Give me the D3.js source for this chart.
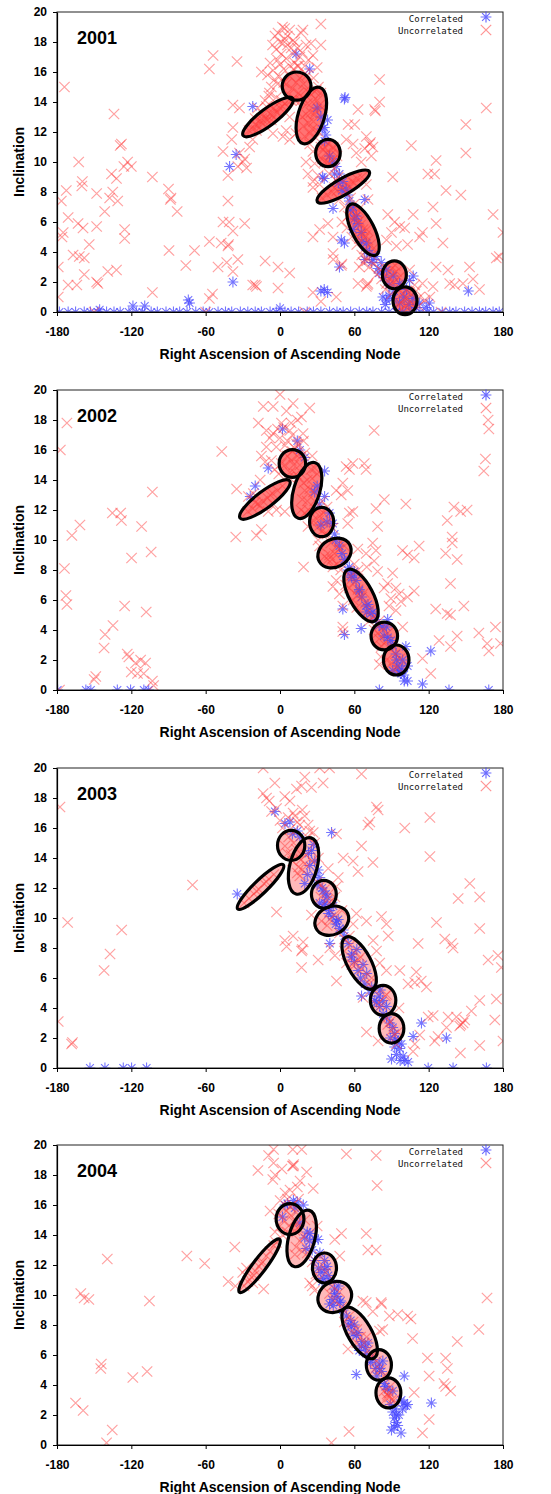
<!DOCTYPE html>
<html>
<head>
<meta charset="utf-8">
<script src="https://cdn.jsdelivr.net/npm/d3@7"></script>
<style>
  body { margin: 0; background: #fff; }
  svg { display: block; font-family: "Liberation Sans", Arial, sans-serif; }
</style>
</head>
<body>
<svg width="551" height="1494"></svg>
<script>
// Panel labels and axis ticks
const years = ["2001", "2002", "2003", "2004"];
const xTicks = [-180, -120, -60, 0, 60, 120, 180];
const yTicks = [0, 2, 4, 6, 8, 10, 12, 14, 16, 18, 20];
const seriesNames = ["Correlated", "Uncorrelated"];

// [RAAN, inclination] pairs
const uncorrelated2001 = [
  [-174,15],[-134,13.2],[-129,11.1],[-128,11.2],[-176.5,7.4],[-172.5,8.1],[-162.5,10],[-160,8.4],[-159.5,8.7],[-148,7.9],
  [-171,6.3],[-163,5.9],[-159,5.6],[-175,5.3],[-176,5],[-167,3.8],[-162,3.7],[-158,3.6],[-154,4.5],[-148,5.7],
  [-141.5,6.7],[-137.5,7.6],[-135,8],[-131,7.4],[-136,9.2],[-132,8.9],[-126,9.7],[-123,10],[-120,9.7],[-125.4,5.5],
  [-125.4,4.9],[-139,2.7],[-132,2.8],[-147,1.9],[-148,2],[-158,2.5],[-164,1.8],[-171,1.8],[-179,3],[-179,1],
  [-103,9],[-103,1.3],[-90,8.2],[-88.5,7.5],[-88,7.6],[-83,6.7],[-89.6,4.1],[-76,3.1],[-69,4.1],[-57,16.2],
  [-54,17.1],[-34.7,16.7],[-57,4.7],[-47.5,4.6],[-46,6],[-41,6],[-38,5.4],[-42,4.4],[-41.5,4.5],[-50,3],
  [-43,3.3],[-38,2.7],[-34,3.5],[-28.5,5.9],[-57,0.9],[-54.5,1.2],[-12,3.4],[-19,1.7],[-20,1.8],[-22,1.8],
  [-1.6,1.6],[-1.6,3],[7.8,2.6],[26.6,1.3],[33,0.7],[45.4,1],[-42,7.4],[-42,9.1],[-46,10.7],[-38,12.3],
  [-39,11.5],[-32.7,10.6],[-30,10],[-34,9.7],[-38,13.8],[-32.7,13.6],[-24.5,11],[-22,11.5],[-15,16],[-27,9.6],[-28.5,10.2],
  [-1.6,18.6],[2.4,17.9],[3.7,18.9],[7.8,18.8],[10.5,18.1],[17,18.6],[-3,17.5],[1,17.2],[5,16.9],[10.5,17.2],
  [16,17],[18.5,18.8],[26.6,17.1],[25,17.9],[33,19.2],[33,17.8],[-5.7,16.1],[-4.3,15.5],[-0.4,15.7],[-7,15],
  [-8.5,14.6],[-3,14.3],[1,14.1],[-5.7,11.9],[2.4,11.7],[5,12.1],[7.8,11.5],[-7,12.8],[-11,13.7],[-12,14.1],
  [7.8,13],[13,11.9],[24,11.2],[26.6,10.7],[28,9.9],[21,10],[22.6,9.2],[26.6,8.7],[30.7,9.1],[32,8.5],
  [33,14.6],[29.3,14.8],[0,16.5],[3,16.2],[6,17.8],[8,16.4],[12,16.6],[14,17.6],[20,16.4],[22,15.8],[-2,16.8],[4,18.2],
  [-6,17.8],[-4,18.4],[0,18],[2,19],[6,18.4],[9,17.6],[12,18],[15,16.4],[18,17.3],[21,17.8],[23,16.8],[-8,16.6],
  [-10,15.8],[-2,15.2],[3,15.3],[27,15.6],[30,16.3],[28,13.2],[34,13.6],[31,12],[33,11],[29,11.6],[-14,13.2],
  [-18,13.6],[-20,12.9],[-9,14.4],
  [80.4,15.5],[76.4,13.5],[77,13.4],[80.4,14],[63,13.5],[55,12.5],[60.3,12.5],[53.5,11.5],[59,11.2],[43,11],
  [61.6,10.6],[69.7,11.7],[72.4,11.2],[73,11.3],[75,11],[68.4,10.9],[65.6,10],[73.7,10.4],[69.7,8.5],[71,7.5],
  [91,9],[106,11.1],[126,10.1],[119.4,9.2],[124.8,9.2],[134,8.1],[146,7.8],[150,12.5],[150,10.6],[166.5,13.6],
  [172,6.5],[180,5.3],[123.5,7],[126,5.9],[107.5,6.5],[87,6.5],[92.5,6],[96.6,5.7],[100.6,5.6],[90,5.3],
  [86,4.8],[94,4.4],[103,4.5],[112.7,5],[115,5.3],[131.5,4.6],[104.6,2.8],[126,3],[135.6,2.8],[137,1.9],
  [141,1.8],[147.7,1.9],[155.8,2.2],[161,1.5],[153,3],[174.6,3.6],[177,3.7],[123.5,1.7],[121,1],[117,0.8],
  [112.7,1],[108.7,1.8],[115,1.9],[104.6,1.3],[86,1.9],[71,1.9],[70.5,1.8],[69.7,1.7],[63,1.9],[64,3],
  [67,3.3],[69.7,3.6],[43,3.5],[42.8,3.9],[49.5,3.1],[50,3.2],[26.6,5],[32,5.5],[42.8,5],[38.7,5.9],[26.6,8.3],
  [36,10],[40,9.2],[45,8.8],[48,7.5],[52,7],[55,6.4],[50,6],[58,5],[62,4.5],[66,3.8],[72,3],[78,2.5],[82,2.2],
  [85,1.5],[90,1.2],[95,1.6],[108,0.5],[112,0.4],[-150,0],[-60,0],[20,0],[130,0],
  [44,9.6],[46,10.4],[47,9],[53,8],[57,7.6],[60,7.2],[63,6.8],[64,4.9],[68,4.2],[70,3.4],[74,3.8],[76,3.2],
  [80,2.9],[84,3],[86,2.4],[98,1.8],[104,0.3],[96,0.5],[110,1.4],[58,6.2],[54,5.6],
  [5,15.2],[7,14.5],[8,15.7],[10,14.9],[11,16.2],[12,14.2],[13,15.3],[14,16.4],[15,14.6],[16,15.6],
  [18,14.3],[19,15.2],[21,14.8],[20,15.9],[9,14.1],[17,14.1],[13,14],
  [-25,12.1],[-22,12.2],[-20,12.5],[-18,12.4],[-16,12.7],[-14,12.6],[-12,12.9],[-10,12.8],[-8,13.2],[-6,13.1],
  [-4,13.4],[-2,13.3],[0,13.6],[2,13.7],[4,13.9],[-15,12.9],[-5,13.6],[-19,12.1],
  [20,11.7],[24,11.9],[19,12.4],[23,12.6],[27,12.7],[21,13.2],[25,13.3],[29,13.4],[22,13.9],[26,14],
  [30,14.1],[24,14.6],[28,14.7],[31,15],[26,12.2],[18,13],[32,13.8],
  [34,10.2],[36,11],[38,10],[39,11.2],[41,10.5],[43,10.9],[37,10.6],[40,9.9],[35,10.8],[42,10.1],
  [34,7.6],[38,7.8],[42,8],[46,8.1],[50,8.3],[54,8.5],[58,8.7],[62,8.9],[66,9],[44,8.3],[56,8.4],[60,8.6],
  [59,6.8],[61,6.3],[63,6],[65,5.8],[67,5.5],[69,5.1],[71,4.8],[73,4.5],[75,4.2],[62,6.6],[66,5.2],[70,5.5],[68,4.9],[64,6.1],
  [88,2.2],[90,2.9],[92,2],[94,2.7],[96,2.3],[91,2.5],[93,3.1],[89,1.9],
  [97,0.6],[99,1.2],[101,0.4],[103,0.9],[105,0.6],[100,0.8],[102,1.4],[98,0.2]
];
const correlated2001 = [
  [13,17.2],[24,16.2],[-22,13.7],[-40.7,9.7],[-35.4,10.5],[-38,2],[52,14.2],[52.5,14.3],[34.4,9],[35.7,8.9],
  [33,1.4],[35.7,1.5],[38.4,1.3],[49.5,4.8],[52,4.6],[48,3],[42.8,6.9],[68.4,7.5],[152,1.4],[120.5,0.6],
  [-73,0.6],[-74,0.8],[-118.7,0.4],[-109.2,0.4],[-145.6,0.15],[0,0.25],[59,5.5],[68.4,3.5],[75,3.5],[80,2.6],
  [83,1],[86,0.8],[104.6,2.1],[107.5,2.4],
  [38.4,12.8],[35.7,12.3],[37,11.8],[40,10.4],[42.8,10],[45.4,9.7],[48,9.2],[50.8,8.7],[53.5,8.2],[54.8,7.8],
  [56,7.4],[59,7],[61.6,6.4],[65.6,5.3],[69.7,4.6],[72.4,3.9],[77.7,3.7],[81.7,3.3],[86,2.8],[91.3,2.4],
  [96.6,1.9],[102,1.5],[107.3,0.9],[112.7,0.6],[118,0.3],[91,0.9],[96.6,0.6],
  [30,13.6],[33,13],[34,12.2],[36,11.4],[44,9.2],[47,8.6],[50,8.1],[57,6.8],[60,6.2],[63,5.9],[66,4.7],
  [70,4.1],[74,3.3],[79,2.9],[84,2.3],[88,1.8],[92,1.4],[100,1],[104,0.5],[110,0.3],[85,0.5],[88,1.1],
  [-178,0],[-171,0],[-165,0],[-158,0],[-153,0],[-147,0],[-140,0],[-134,0],[-129,0],[-122,0],
  [-116,0],[-111,0],[-104,0],[-99,0],[-92,0],[-86,0],[-81,0],[-75,0],[-68,0],[-62,0],
  [-57,0],[-50,0],[-44,0],[-39,0],[-32,0],[-26,0],[-20,0],[-15,0],[-8,0],[-3,0],
  [4,0],[9,0],[15,0],[22,0],[27,0],[33,0],[40,0],[46,0],[51,0],[57,0],
  [64,0],[70,0],[75,0],[82,0],[88,0],[94,0],[99,0],[106,0],[113,0],[119,0],
  [124,0],[131,0],[137,0],[142,0],[149,0],[155,0],[161,0],[166,0],[172,0],[177,0]
];

const uncorrelated2002 = [
  [-177.3,16],[-172,17.8],[-174,8.1],[-172.8,6.3],[-172,5.7],[-168,10.3],[-161.5,11],[-135.3,11.8],[-128.6,11.8],[-128,11.3],
  [-111.7,10.9],[-103,13.2],[-104,9.2],[-119.8,8.8],[-125.4,5.6],[-108,5.2],[-134.8,4.3],[-141.2,3.7],[-142,2.8],[-148.7,0.9],
  [-150,0.7],[-123.3,2.4],[-122,2.2],[-120,1.2],[-116.6,1.8],[-112.5,2],[-108.5,1.8],[-115,1.1],[-110,1.1],[-103,0.6],
  [-47,15.9],[-35,13.4],[-35.7,10.2],[-19,10.3],[-15,10.7],[-13.5,18.9],[-5.5,18.9],[0,19.7],[5.2,18.6],[10.6,19.1],
  [17.3,18.2],[24,18.8],[-17.5,17.8],[-11,17.3],[-5.5,17.1],[1.2,17.8],[-11,16.2],[-8.3,16.8],[-3,16.2],[7.9,17.3],
  [13.3,16.4],[18.6,17.1],[1.2,15.1],[-4.2,14.7],[-16,14],[-21.5,13.1],[-25.5,12.9],[-9.5,11.9],[-2.8,12],[3.9,11.9],
  [-5.5,12.4],[19,8.2],[22.6,10.9],[26.6,11.3],[30.7,10],[42.7,10.8],[45.4,13.3],[50.7,13.8],[54.7,13.3],[49.4,13],
  [56,14.7],[53.4,14.9],[68,15.1],[69.5,14.7],[58.8,15.1],[76,17.3],[84.2,12.7],[77.5,12.1],[78.8,10.9],[56,11.8],
  [58.8,11.9],[54.7,11.1],[62.8,9.4],[69.5,9.1],[74.8,9.8],[77.5,9.3],[76,8.6],[78.8,7.9],[90.9,7.8],[86.9,7.1],
  [93.6,6.8],[96.2,6.4],[89.5,6.1],[97.6,5.9],[102.9,6.2],[108.3,6.6],[93.6,5.3],[98.9,9.3],[102.9,9],[108.3,8.8],
  [112.3,9.6],[101.6,12.4],[80.2,1.7],[115,2.1],[121.7,1.1],[125.7,5.4],[128.4,3.3],[134.9,5.1],[137.6,5],[137.6,7.1],
  [133.7,9.1],[139,10.2],[139,9.8],[143,8.7],[135,11.3],[140.4,12.2],[145.8,11.9],[151,12],[148.4,5.6],[137.6,2.9],
  [143,3.6],[160.5,3.8],[164.5,14.6],[165.8,15.4],[168,18],[168.6,17.4],[167.2,3.1],[168.6,2.6],[173.9,4.2],[178,3.1],
  [32,9.6],[38.7,8.7],[42.7,8.2],[45.4,7.3],[42.7,6.9],[48,6.4],[50.7,5.6],[50.7,4.2],[50.7,3.9],[81.5,2.2],
  [-178,0],[-102,0.3],[-2,17.4],[4,16.3],[9,17.8],[14,18],[20,15.8],[26,15.6],[-7,15.3],[30,14.4],
  [34,12.6],[38,12.2],[60,8.4],[63,8],[70,8.2],[84,6.8],[88,5.6],[80,4.6],[99,4.2],
  [28,12.6],[30,12],[38,10.4],[41,9.8],[46,8.4],[49,8],[53,7],[56,6.8],[59,6],[62,5.5],[72,4.6],[76,4],
  [79,3.8],[88,2.8],[91,2.9],[86,2],[0,16.8],[3,17.5],[6,16.6],[10,17],[15,16.4],[17,15.6],[19,16.6],
  [-1,14.4],[-12,15.2],[-15,15.6],
  [4,15],[6,15.6],[8,14.5],[10,15.9],[11,15],[13,14.4],[14,15.6],[16,15],[7,14.2],[12,16.1],[15,14.2],[9,15.3],
  [-26,11.9],[-22,12.1],[-18,12.4],[-14,12.6],[-10,12.8],[-6,13.1],[-2,13.3],[2,13.6],[-16,12.3],[-8,13],[-20,12.5],
  [17,12],[20,11.8],[18,12.7],[22,12.6],[20,13.3],[24,13.4],[22,14],[26,14.1],[25,14.7],[28,14.8],[19,13.8],[27,13.2],[23,12],
  [30,10.8],[32,11.6],[34,10.6],[35,11.8],[37,11.1],[31,11.3],[36,10.4],
  [36,8.9],[40,9],[44,9.1],[48,9.4],[52,9.6],[42,8.7],[46,9.6],
  [57,7.6],[60,7.2],[63,6.7],[66,6.2],[69,5.8],[72,5.3],[75,4.8],[62,6.3],[68,6.5],
  [80,3.4],[83,4],[85,3.2],[87,3.8],[82,2.9],
  [90,1.8],[93,2.4],[95,1.5],[97,2.1],[92,1.4]
];
const correlated2002 = [
  [2,17.4],[-9.5,14.8],[-20,13.6],[-24,12.9],[36,14.6],[36,12.9],[50.7,5.4],[52,3.7],[65.5,4.1],[121.7,2.6],
  [115,0.4],[100.3,0.6],[103,0.6],[97.6,1.1],[101.6,2.9],[86.9,4.7],
  [40,11.8],[42.7,11.1],[44,10.4],[48,9.6],[52,8.7],[54.7,8],[57.4,7.6],[61.4,7.3],[64,6.7],[69.5,5.6],
  [73.5,5.1],[77.5,4.7],[82.9,4.2],[89.5,3.3],[93.6,2.4],[99,2],[103,1.6],[91,1.3],
  [33,11],[58,7.5],[64,6.6],[70,5.2],[84,3.6],[86,4.2],[94,2],[96,1.2],[20,15.5],[28,13.2],
  [30,13.6],[32,12.4],[38,11.2],[45,10],[50,9.1],[56,8.2],[60,7.9],[66,6.2],[71,5.7],[75,5.2],[80,4.3],
  [87,3.5],[91,3],[95,1.6],[98,1.4],[100,1],[16,16],[14,16.6],
  [-179.5,0],[-156.7,0],[-152.7,0],[-131.3,0],[-120.6,0],[-109.9,0],[-106,0],[80.2,0],[136.4,0],[168.5,0]
];

const uncorrelated2003 = [
  [-177.6,17.4],[-171.4,9.7],[-168.2,1.6],[-167.5,1.7],[-179,3.1],[-127.8,9.2],[-137.2,7.6],[-142,6.5],[-70.6,12.2],[-13.6,20],
  [-13.6,18.3],[-10.9,18],[-8.7,17.8],[-4.2,19],[3.9,18.1],[8,17.8],[13.3,18.6],[17.4,18.8],[20,19.4],[25.4,18.7],
  [32,20],[40,20],[34.8,19],[65.8,19.6],[-6.8,17.1],[-2.8,17.3],[0,16.5],[6.6,16.7],[10.6,17],[16,16.2],
  [22.7,16.2],[26.8,15.7],[45.6,15.6],[51,14],[47,12.7],[45.6,12.1],[44.3,11.4],[38.9,13.3],[33.5,12.2],[59,13.8],
  [63,13.1],[65.8,14.8],[71,16.2],[72.5,16.4],[77.9,17.4],[79.2,17.2],[75,13.7],[69.8,9.8],[61.7,10.3],[59,9.6],
  [81.9,10.1],[85.9,9.6],[87.4,8.8],[75.2,8.5],[77.9,7.8],[80.5,7],[85.9,6.5],[96.7,6.5],[100.7,16],[121,16.7],
  [121,14.1],[103.4,5.6],[110,6.4],[108.8,5.7],[114,5.8],[118.2,5.4],[111.5,8.3],[126.3,9.7],[133,8.6],[138.4,8.3],
  [139.7,8],[143.8,11.3],[153.2,12.3],[161.2,11.4],[161.2,9.3],[168,7.2],[176,7.5],[178.7,6.7],[174.7,4.6],[173.4,3.2],
  [161.2,4.5],[154.5,3.8],[149.1,3.2],[147.8,3],[145.1,2.8],[146,2.9],[142.4,3.4],[135.7,3.4],[134.4,2.7],[145.6,1],
  [161.2,1.5],[123.6,3.5],[119.6,3.4],[127.6,2.1],[124.9,1.8],[112.8,2.2],[108.8,1.6],[107.4,1.1],[69.8,2.4],[79.2,1.8],
  [67.1,4.7],[45.6,5.8],[53.7,7],[40.2,8],[44.3,7.5],[30.8,7.2],[18.7,8.4],[17.4,7.8],[18,7.9],[10.6,8.8],
  [3.9,8.5],[-2.8,10.4],[5.3,8.1],[17.4,6.7],[33.5,9.8],[25.4,10.2],[180,1.8],
  [2,16],[12,16.8],[18,17.2],[28,15],[31,14],[50,10.5],[52,8.6],[74,6],[86,4.9],[96,4],
  [22,15.4],[24,15.8],[14,16.4],[20,16.8],[26,13.8],[30,12.4],[42,11.2],[48,9],[52,7.8],[56,8.8],[58,6.9],
  [76,5.2],[78,4.2],[86,3.3],[94,1.6],[95,2.4],[10,13.8],[14,13],
  [4,14.8],[7,15.4],[9,14.2],[11,15],[13,14.6],[8,15.9],[6,14.3],
  [-29,11],[-25,11.3],[-21,11.6],[-17,11.9],[-13,12.3],[-9,12.6],[-5,12.9],[-19,11.8],[-11,12.4],
  [16,12.8],[18,13.2],[20,13.6],[17,13.9],[21,14.2],[15,13.4],
  [33,11.4],[36,11.9],[38,11.2],[40,9.9],[44,10.2],[38,9.5],
  [57,8.2],[60,7.7],[63,7.2],[66,6.6],[69,6.1],[72,5.6],[61,6.9],[65,7.4],
  [82,4.2],[85,4.8],[87,2.9],[90,2.5],[92,2.2],[89,3.1]
];
const correlated2003 = [
  [-4.1,17.1],[41.6,15.7],[-34.5,11.6],[40.2,8.3],[65.8,4.8],[114.2,3],[134.3,2],[107.5,2.1],[90,0.6],[100.7,0.5],
  [103.4,0.4],[96.7,1.3],[99.4,0.8],
  [25.4,14.5],[28.1,13.8],[30.8,13.2],[32.2,12.7],[34.8,11.8],[36.2,11],[40.2,10.5],[45.6,9.8],[51,9.2],[55,8.3],
  [57.7,7.4],[63,6.5],[68.5,5.6],[72.5,5],[76.5,4.5],[80.5,4.1],[83.2,3.6],[88.6,3],[92.6,2.3],[95.3,1.8],[92.6,1.4],
  [10,15.6],[23,14.3],[24,13.5],[22,12.9],[20,12.3],[34,12],[37,11.6],[32,11],[36,10.9],
  [42,10.1],[45,9.6],[39,10.3],[47,9.9],[58,7.6],[62,7.9],[67,6.9],[70,6.3],
  [80,4.8],[83,4.5],[86,4.1],[81,5.2],[91,2.7],[93,1.9],[8,16.4],[14,15.8],
  [27,14.9],[28,12.8],[30,12.2],[38,11.4],[43,10.8],[48,9.3],[52,8.8],[60,7.1],[65,6],[74,5.4],[78,4.4],
  [86,3.4],[89,2],[94,0.9],[97,0.5],[98,1.6],[16,15.4],[4,16.3],
  [-153.4,0],[-141.3,0],[-126.5,0],[-119.8,0],[-107.7,0],[119.6,0],[139.7,0],[166.6,0]
];

const uncorrelated2004 = [
  [-165,2.8],[-158.9,2.3],[-160.8,10.1],[-158.1,9.8],[-154.3,9.7],[-144.2,5.4],[-144.7,5.1],[-139.4,12.4],[-135.4,1],[-140,0.15],
  [-118.8,4.5],[-107.3,4.9],[-105.4,9.6],[-75.2,12.6],[-60.8,12.1],[-41.8,10.9],[-36.5,13.2],[-36,10.6],[-30.1,11.5],[-13.2,10.4],
  [-17.8,18.3],[-9.2,19.3],[-5.2,19.7],[-5.2,18.8],[-5.8,17.7],[-3.9,18],[1.5,18.4],[10.3,19.7],[10.8,18.6],[17.5,19.7],
  [16.2,17.6],[21.5,18.2],[26.8,17.1],[8.1,17],[0.1,16.3],[4.1,16.8],[53.6,19.4],[77.6,19.3],[78.4,17.3],[44.2,13.7],
  [49.6,14.1],[48.2,12.6],[69.6,14.1],[70.9,13],[77.6,13],[66.9,9.6],[69.6,9.5],[74.9,8.9],[81.6,9.5],[82,9.4],
  [88.3,8.6],[95,8.7],[103,8.6],[105.7,8.4],[107,7.1],[80.3,7.6],[82.9,7.7],[54.9,6.4],[108.3,3.5],[119,5.8],
  [120.4,4.6],[120.4,1.7],[115,0.8],[133.7,5.8],[135.1,5.1],[132.4,4.1],[133.7,3.9],[137.7,3.6],[143.1,6.9],[160.5,7.7],
  [167.1,9.8],[55.7,0.9],[41.5,0.15],[10,18.6],[11,18.7],[24,10.8],[26,10.6],[28,10.3],[30,14.6],[32,12.6],
  [-22,10.8],[-27,11.8],[-4,14.2],[2,14],[-8,15.6],[6,16.4],[14,17.2],
  [-1,15.4],[0,14.6],[14,14.8],[15,16.4],[20,15],[22,12.8],[26,12.2],[29,11.4],[42,10.6],[50,9.2],[52,8.2],
  [58,7.6],[62,6.8],[70,7.2],[76,5],[84,4.6],[92,3],
  [3,15],[5,15.6],[7,14.6],[9,15.3],[11,14.9],[13,15.5],[6,14.2],[10,16],[12,14.3],[8,15.9],
  [-29,10.6],[-26,10.9],[-23,11.2],[-20,11.6],[-17,11.9],[-14,12.2],[-11,12.6],[-8,12.9],[-5,13.3],[-3,13.5],[-21,11.3],[-15,12.1],
  [13,13.2],[16,13.6],[19,13.9],[15,14.4],[12,12.7],[18,12.9],
  [34,12],[37,11.5],[40,10.1],[44,9.6],[48,10.2],
  [56,8.6],[59,8.2],[62,7.7],[65,7.2],[68,6.8],[71,6.3],[74,5.9],
  [78,5.6],[81,5],[84,3.6],[86,3.1],[88,3.5],[89,3.9],[90,3],[87,3.3],[86.5,3.4],[88.5,3.2]
];
const correlated2004 = [
  [10.8,16.3],[18.8,16],[30.8,13.7],[61.6,4.7],[100.3,4.6],[122.2,2.8],[97.7,0.8],
  [91,2.2],[92.3,1.8],[93.7,1.5],[95,1.3],[99,2.4],[101.7,2.6],[103,2.7],[92,1.2],[94,2],
  [24.2,14.1],[28.2,13.7],[32.2,12.8],[36.2,11.7],[40.2,11],[44.2,10.1],[48.2,9.5],[53.6,8.6],[57.6,7.9],[61.6,7.3],
  [65.6,6.6],[69.6,6.1],[74.9,5.7],[80.3,5.1],[84.3,4.1],[87,3.7],
  [4,16],[14,16.2],[20,13.8],[22,14.2],[24,13.6],[21,13.1],[33,11.5],[36,12.3],[38,11.9],[35,11.1],[39,11.3],
  [42,9.7],[46,9.9],[40,9.4],[44,10.4],[49,9.6],[57,8.3],[60,8],[63,7.5],[66,6.9],[69,6.5],
  [77,5.1],[80,5.4],[83,5.6],[82,4.9],[85,3.9],[91,3.6],
  [2,15.2],[6,16.1],[12,15.8],[16,14.8],[26,13],[28,12.3],[31,11.8],[34,10.9],[43,9.3],[47,10.6],[51,9],
  [55,8],[59,7.4],[64,6.3],[71,6.8],[73,5.5],[78,4.6],[89,2.7],[93,2.4],[96,2],[90,1],[98,3],[100,2.8]
];

// Cluster outlines: [RAAN, inclination, major-axis end RAAN, end inclination, minor/major ratio]
const ellipses2001 = [
  [13.4,15.06,13.4,16.0,1.02],[-9.7,13.0,10.3,14.24,0.27],[25.3,13.1,32.2,14.97,0.45],[38.7,10.6,38.7,11.51,0.9],
  [51.1,8.36,72.1,9.36,0.27],[67,5.48,77.4,3.79,0.39],[92.3,2.48,92.3,3.41,0.86],[100.9,0.75,100.9,1.68,0.86]
];
const ellipses2002 = [
  [10,15.1,10,16.03,0.95],[-12.2,12.7,7.8,13.94,0.27],[21.6,13.3,28.4,15.15,0.45],[33.6,11.2,33.6,12.18,0.82],
  [44,9.13,56.2,9.71,0.8],[65.4,6.3,76.4,4.59,0.41],[84.2,3.6,84.2,4.53,0.95],[93.8,2.0,93.8,3.0,0.85]
];
const ellipses2003 = [
  [9,14.84,9,15.84,0.91],[-15.7,12.07,2.7,13.54,0.21],[19,13.47,25.1,15.34,0.47],[35.4,11.58,35.4,12.51,0.89],
  [41.8,9.82,54.6,10.31,0.8],[63.9,7.0,74.9,5.29,0.41],[83.2,4.51,83.2,5.51,0.85],[90,2.64,90,3.62,0.84]
];
const ellipses2004 = [
  [8.1,15.06,8.1,16.09,0.9],[-16.5,11.95,-0.3,13.72,0.2],[17.5,13.77,23.6,15.64,0.45],[35.9,11.8,35.9,12.8,0.8],
  [44.2,9.87,56.4,10.45,0.86],[64.3,7.47,76,5.8,0.41],[79.8,5.34,79.8,6.36,0.82],[87.5,3.48,87.5,4.48,0.83]
];

const panels = [
  { year: years[0], corr: correlated2001, uncorr: uncorrelated2001, ellipses: ellipses2001 },
  { year: years[1], corr: correlated2002, uncorr: uncorrelated2002, ellipses: ellipses2002 },
  { year: years[2], corr: correlated2003, uncorr: uncorrelated2003, ellipses: ellipses2003 },
  { year: years[3], corr: correlated2004, uncorr: uncorrelated2004, ellipses: ellipses2004 }
];

// Layout
const panelTops = [12, 390, 768, 1145];
const plotLeft = 57, plotRight = 503, plotHeight = 300;
const fillStrength = [0.8, 0.75, 0.4, 0.4];

const red = "#ff3b3b";
const blue = "#4747ff";
const crossPath = "M-5.2,-5.2L5.2,5.2M-5.2,5.2L5.2,-5.2";
const starPath = "M0,-5.4V5.4M-5.4,0H5.4M-3.9,-3.9L3.9,3.9M-3.9,3.9L3.9,-3.9";

const svg = d3.select("svg");

const x = d3.scaleLinear().domain([-180, 180]).range([plotLeft, plotRight]);
const y = d3.scaleLinear().domain([0, 20]).range([plotHeight, 0]);

panels.forEach((p, i) => {
    const g = svg.append("g").attr("transform", `translate(0,${panelTops[i]})`);

    g.append("clipPath").attr("id", `clip${i}`)
        .append("rect")
        .attr("x", plotLeft).attr("y", 0)
        .attr("width", plotRight - plotLeft).attr("height", plotHeight);

    const plot = g.append("g").attr("clip-path", `url(#clip${i})`);

    // ellipse shapes in pixel space
    const shapes = p.ellipses.map(e => {
        const cx = x(e[0]), cy = y(e[1]);
        const dx = x(e[2]) - cx, dy = y(e[3]) - cy;
        const a = Math.hypot(dx, dy);
        return { cx, cy, a, b: a * e[4], angle: Math.atan2(dy, dx) * 180 / Math.PI };
    });

    // dense cluster shading under the points
    plot.selectAll(".shade")
        .data(shapes)
        .enter()
        .append("ellipse")
        .attr("class", "shade")
        .attr("transform", d => `translate(${d.cx},${d.cy}) rotate(${d.angle})`)
        .attr("rx", d => d.a)
        .attr("ry", d => d.b)
        .attr("fill", "#ff5050")
        .attr("fill-opacity", fillStrength[i]);

    // Correlated points
    plot.selectAll(".corr")
        .data(p.corr)
        .enter()
        .append("path")
        .attr("class", "corr")
        .attr("transform", d => `translate(${x(d[0])},${y(d[1])})`)
        .attr("d", starPath)
        .attr("stroke", blue)
        .attr("stroke-opacity", 0.75)
        .attr("stroke-width", 1.1)
        .attr("fill", "none");

    // Uncorrelated points
    plot.selectAll(".uncorr")
        .data(p.uncorr)
        .enter()
        .append("path")
        .attr("class", "uncorr")
        .attr("transform", d => `translate(${x(d[0])},${y(d[1])})`)
        .attr("d", crossPath)
        .attr("stroke", red)
        .attr("stroke-opacity", 0.48)
        .attr("stroke-width", 1.2)
        .attr("fill", "none");

    // ellipse outlines
    g.selectAll(".ring")
        .data(shapes)
        .enter()
        .append("ellipse")
        .attr("class", "ring")
        .attr("transform", d => `translate(${d.cx},${d.cy}) rotate(${d.angle})`)
        .attr("rx", d => d.a)
        .attr("ry", d => d.b)
        .attr("fill", "none")
        .attr("stroke", "#000")
        .attr("stroke-width", 3.2);

    // frame
    g.append("rect")
        .attr("x", plotLeft).attr("y", 0)
        .attr("width", plotRight - plotLeft).attr("height", plotHeight)
        .attr("fill", "none")
        .attr("stroke", "#222")
        .attr("stroke-width", 1);

    // axes
    const xAxis = g.append("g")
        .attr("transform", `translate(0,${plotHeight})`)
        .call(d3.axisBottom(x).tickValues(xTicks).tickFormat(d => String(d))
            .tickSize(4).tickSizeOuter(0).tickPadding(11));
    const yAxis = g.append("g")
        .attr("transform", `translate(${plotLeft},0)`)
        .call(d3.axisLeft(y).tickValues(yTicks).tickFormat(d => String(d))
            .tickSize(4).tickSizeOuter(0).tickPadding(6));

    [xAxis, yAxis].forEach(ax => {
        ax.selectAll("text")
            .attr("font-family", "Liberation Sans, Arial, sans-serif")
            .attr("font-size", 12)
            .attr("font-weight", "bold")
            .attr("fill", "#000");
        ax.selectAll("line").attr("stroke", "#000");
        ax.select(".domain").attr("stroke", "#000").attr("stroke-width", 1.2);
    });

    // year label
    g.append("text")
        .attr("x", 77)
        .attr("y", 31.5)
        .attr("font-size", 18)
        .attr("font-weight", "bold")
        .text(p.year);

    // legend
    const legend = g.append("g");
    seriesNames.forEach((name, k) => {
        legend.append("text")
            .attr("x", 463)
            .attr("y", 6.5 + k * 12 + 3)
            .attr("text-anchor", "end")
            .attr("font-family", "DejaVu Sans Mono, monospace")
            .attr("font-size", 9)
            .attr("fill", "#111")
            .text(name);
        legend.append("path")
            .attr("transform", `translate(486,${5 + k * 13})`)
            .attr("d", k === 0 ? starPath : crossPath)
            .attr("stroke", k === 0 ? blue : red)
            .attr("stroke-opacity", k === 0 ? 0.8 : 0.55)
            .attr("stroke-width", 1.2)
            .attr("fill", "none");
    });

    // axis titles
    g.append("text")
        .attr("x", (plotLeft + plotRight) / 2)
        .attr("y", 347)
        .attr("text-anchor", "middle")
        .attr("font-size", 14)
        .attr("font-weight", "bold")
        .text("Right Ascension of Ascending Node");

    g.append("text")
        .attr("transform", "rotate(-90)")
        .attr("x", -plotHeight / 2)
        .attr("y", 24)
        .attr("text-anchor", "middle")
        .attr("font-size", 14)
        .attr("font-weight", "bold")
        .text("Inclination");
});
</script>
</body>
</html>
